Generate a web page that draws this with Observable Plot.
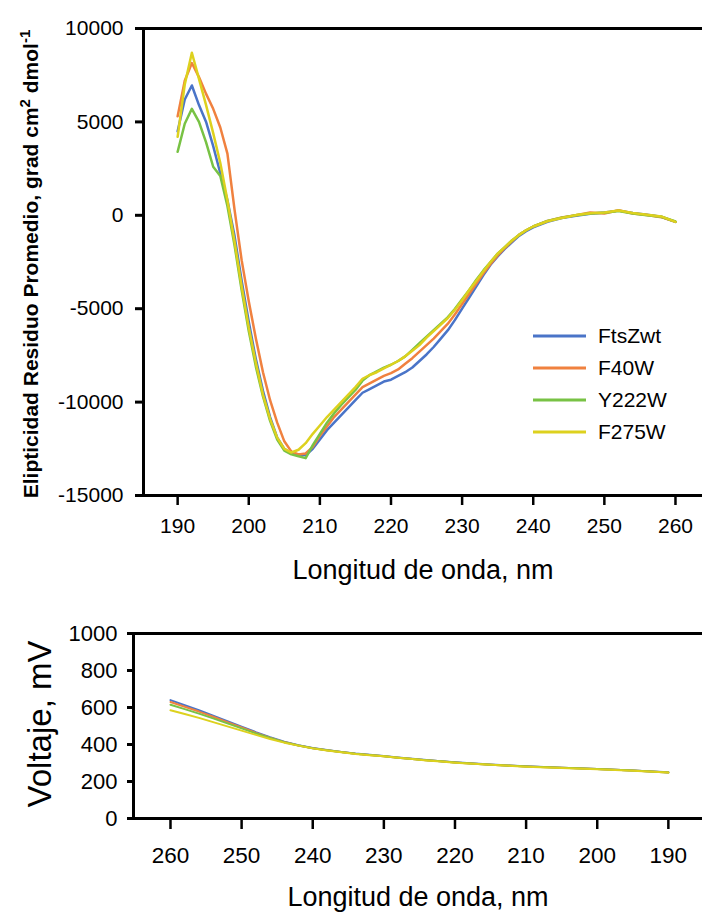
<!DOCTYPE html>
<html><head><meta charset="utf-8">
<script src="https://cdn.jsdelivr.net/npm/d3@7"></script>
<script src="https://cdn.jsdelivr.net/npm/@observablehq/plot@0.6"></script>
<style>
body{margin:0;background:#fff;width:702px;height:920px;overflow:hidden;font-family:"Liberation Sans",Arial,sans-serif}
#top,#bottom{display:block;line-height:0}
svg{display:block}
</style></head><body>
<div id="top"></div><div id="bottom"></div>
<script>
// ---------- data ----------
const seriesNames = ["FtsZwt", "F40W", "Y222W", "F275W"];
const seriesColors = ["#4a74c8", "#f0813f", "#78c244", "#ddd11e"];

// Top panel: CD spectra (wavelength nm -> mean residue ellipticity)
const wlTop = [190,191,192,193,194,195,196,197,198,199,200,201,202,203,204,205,206,207,208,209,210,211,212,213,214,215,216,217,218,219,220,221,222,223,224,225,226,227,228,229,230,231,232,233,234,235,236,237,238,239,240,242,244,246,248,250,252,254,256,258,260];
const cdFtsZwt = [4500,6200,6950,5900,5000,3700,2250,800,-1100,-3500,-5700,-7700,-9400,-10800,-11900,-12500,-12750,-12800,-12850,-12500,-12000,-11500,-11100,-10700,-10300,-9900,-9500,-9300,-9100,-8900,-8800,-8600,-8400,-8150,-7800,-7450,-7050,-6600,-6150,-5600,-5000,-4400,-3800,-3200,-2650,-2200,-1800,-1450,-1100,-850,-650,-350,-150,-20,80,150,250,120,30,-80,-350];
const cdF40W = [5300,7200,8150,7400,6500,5700,4700,3300,300,-2400,-4600,-6600,-8400,-9900,-11100,-12100,-12650,-12800,-12750,-12400,-11800,-11300,-10800,-10400,-10000,-9600,-9200,-9000,-8800,-8600,-8450,-8250,-7950,-7650,-7300,-6950,-6600,-6200,-5800,-5300,-4750,-4200,-3650,-3100,-2600,-2150,-1750,-1400,-1050,-800,-600,-300,-120,0,150,100,270,100,20,-100,-350];
const cdY222W = [3400,4900,5700,5000,3900,2600,2100,500,-1600,-4000,-6200,-8100,-9700,-11000,-12000,-12600,-12800,-12900,-13000,-12300,-11700,-11100,-10600,-10150,-9750,-9350,-8850,-8550,-8350,-8150,-8000,-7800,-7550,-7200,-6850,-6500,-6150,-5800,-5450,-5000,-4500,-4000,-3450,-2950,-2500,-2050,-1700,-1350,-1050,-800,-600,-300,-130,0,100,130,230,100,0,-80,-330];
const cdF275W = [4200,7000,8700,7300,5900,4400,2800,800,-1400,-3800,-6000,-7900,-9600,-10900,-11900,-12500,-12700,-12550,-12200,-11700,-11250,-10800,-10400,-10000,-9600,-9200,-8750,-8550,-8400,-8200,-8000,-7800,-7550,-7250,-6950,-6550,-6200,-5850,-5500,-5050,-4550,-4000,-3500,-3000,-2500,-2050,-1700,-1350,-1050,-800,-600,-320,-140,10,110,150,260,120,30,-60,-350];

// Bottom panel: HT voltage
const wlBottom = [260,258,256,254,252,250,248,246,244,242,240,238,236,234,232,230,228,226,224,222,220,215,210,205,200,195,190];
const vFtsZwt = [640,612,585,556,526,496,467,440,415,396,381,370,360,351,344,338,330,323,316,310,304,292,282,275,268,260,250];
const vF40W   = [630,604,578,550,521,492,463,437,413,395,380,369,359,350,343,337,329,322,315,309,303,291,281,274,267,259,249];
const vY222W  = [615,591,567,541,514,487,460,435,412,395,380,369,359,350,343,337,329,322,315,309,303,291,281,274,267,259,249];
const vF275W  = [585,565,544,521,498,475,452,430,410,394,379,368,358,349,342,336,328,321,314,308,302,290,280,273,266,258,248];

// tick labels
const topXTicks = [190,200,210,220,230,240,250,260];
const topYTicks = [-15000,-10000,-5000,0,5000,10000];
const botXTicks = [260,250,240,230,220,210,200,190];
const botYTicks = [0,200,400,600,800,1000];
const xTitle = "Longitud de onda, nm";
const topYTitleParts = ["Elipticidad Residuo Promedio, grad cm", "2", " dmol", "-1"];
const botYTitle = "Voltaje, mV";

// ---------- build tables ----------
const cdSeries = [cdFtsZwt, cdF40W, cdY222W, cdF275W];
const vSeries = [vFtsZwt, vF40W, vY222W, vF275W];
const topData = [];
seriesNames.forEach((s, i) => wlTop.forEach((w, j) => topData.push({series: s, wl: w, v: cdSeries[i][j]})));
const botData = [];
seriesNames.forEach((s, i) => wlBottom.forEach((w, j) => botData.push({series: s, wl: w, v: vSeries[i][j]})));

const FONT = "Liberation Sans, Arial, Helvetica, sans-serif";
const fmt = d => String(d);

// ---------- top chart ----------
const topXDomain = [185.2, 263.8];
const topYDomain = [-15000, 10000];
const topSvg = Plot.plot({
  width: 702, height: 600,
  marginLeft: 143, marginRight: 0, marginTop: 28, marginBottom: 105,
  style: {fontFamily: FONT, background: "white", color: "black"},
  x: {domain: topXDomain},
  y: {domain: topYDomain},
  color: {domain: seriesNames, range: seriesColors},
  marks: [
    Plot.line(topData, {x: "wl", y: "v", z: "series", stroke: "series", strokeWidth: 2.5}),
    Plot.axisY({ticks: topYTicks, tickSize: 8, tickPadding: 12, fontSize: 21, tickFormat: fmt, label: null, strokeWidth: 3}),
    Plot.axisX({ticks: topXTicks, tickSize: 10, tickPadding: 13, fontSize: 21, tickFormat: fmt, label: null, strokeWidth: 2.5}),
    Plot.ruleX([topXDomain[0]], {strokeWidth: 3}),
    Plot.ruleY([topYDomain[1]], {strokeWidth: 3}),
    Plot.ruleY([topYDomain[0]], {strokeWidth: 3}),
    Plot.text([xTitle], {frameAnchor: "bottom", dy: 83, fontSize: 27})
  ]
});
document.getElementById("top").appendChild(topSvg);

// y title with superscripts
{
  const s = d3.select(topSvg);
  const t = s.append("text")
    .attr("transform", "translate(38,264) rotate(-90)")
    .attr("text-anchor", "middle")
    .attr("font-family", FONT)
    .attr("font-weight", "bold")
    .attr("font-size", 21)
    .attr("fill", "black");
  t.append("tspan").text(topYTitleParts[0]);
  t.append("tspan").attr("dy", -8).attr("font-size", 15).text(topYTitleParts[1]);
  t.append("tspan").attr("dy", 8).text(topYTitleParts[2]);
  t.append("tspan").attr("dy", -8).attr("font-size", 15).text(topYTitleParts[3]);

  // legend
  const g = s.append("g").attr("font-family", FONT).attr("font-size", 21).attr("text-anchor", "start");
  seriesNames.forEach((name, i) => {
    const y = 336 + i * 32;
    g.append("line").attr("x1", 533).attr("x2", 586).attr("y1", y).attr("y2", y)
      .attr("stroke", seriesColors[i]).attr("stroke-width", 3);
    g.append("text").attr("x", 598).attr("y", y).attr("dy", "0.35em")
      .attr("text-anchor", "start").attr("fill", "black").text(name);
  });
}

// ---------- bottom chart ----------
const botXDomain = [265.2, 185.2];
const botYDomain = [0, 1000];
const botSvg = Plot.plot({
  width: 702, height: 320,
  marginLeft: 133, marginRight: 0, marginTop: 33, marginBottom: 102,
  style: {fontFamily: FONT, background: "white", color: "black"},
  x: {domain: botXDomain},
  y: {domain: botYDomain},
  color: {domain: seriesNames, range: seriesColors},
  marks: [
    Plot.line(botData, {x: "wl", y: "v", z: "series", stroke: "series", strokeWidth: 2}),
    Plot.axisY({ticks: botYTicks, tickSize: 6, tickPadding: 10, fontSize: 22, tickFormat: fmt, label: null, strokeWidth: 3}),
    Plot.axisX({ticks: botXTicks, tickSize: 11, tickPadding: 18, fontSize: 22.5, tickFormat: fmt, label: null, strokeWidth: 2.5}),
    Plot.ruleX([botXDomain[0]], {strokeWidth: 3}),
    Plot.ruleY([botYDomain[1]], {strokeWidth: 3}),
    Plot.ruleY([botYDomain[0]], {strokeWidth: 3}),
    Plot.text([xTitle], {frameAnchor: "bottom", dy: 87, fontSize: 27})
  ]
});
document.getElementById("bottom").appendChild(botSvg);
{
  const s = d3.select(botSvg);
  s.append("text")
    .attr("transform", "translate(51,124) rotate(-90)")
    .attr("text-anchor", "middle")
    .attr("font-family", FONT)
    .attr("font-size", 33)
    .attr("fill", "black")
    .text(botYTitle);
}
</script></body></html>
